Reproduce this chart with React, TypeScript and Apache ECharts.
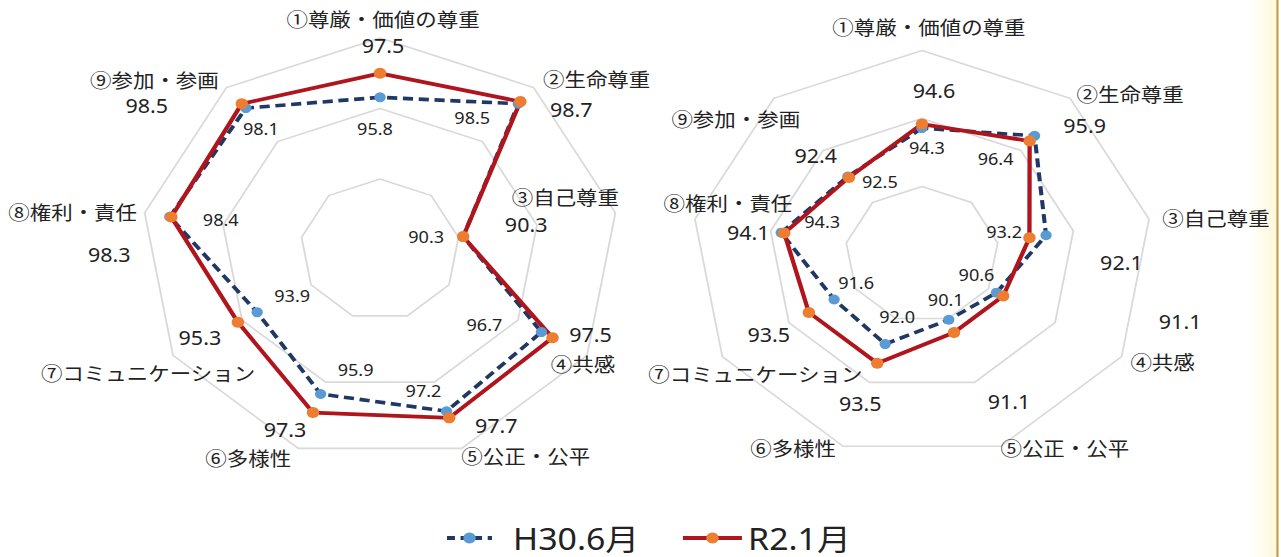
import React, { useEffect, useRef } from 'react';
import * as echarts from 'echarts';

// ---- data ----
const axisNames = ['①尊厳・価値の尊重', '②生命尊重', '③自己尊重', '④共感', '⑤公正・公平', '⑥多様性', '⑦コミュニケーション', '⑧権利・責任', '⑨参加・参画'];
const seriesNames = ['H30.6月', 'R2.1月'];
const leftH30 = [95.8, 98.5, 90.3, 96.7, 97.2, 95.9, 93.9, 98.4, 98.1];
const leftR2 = [97.5, 98.7, 90.3, 97.5, 97.7, 97.3, 95.3, 98.3, 98.5];
const rightH30 = [94.3, 96.4, 93.2, 90.6, 90.1, 92.0, 91.6, 94.3, 92.5];
const rightR2 = [94.6, 95.9, 92.1, 91.1, 91.1, 93.5, 93.5, 94.1, 92.4];
const axisMin = 85;
const axisMax = 100;

// ---- layout (label offsets relative to their point, in reference pixels) ----
const S = 1.13; // horizontal stretch of the reference picture
const W = 1281 / S;
const H = 557;
const ORDER = [0, 8, 7, 6, 5, 4, 3, 2, 1]; // clockwise placement
const leftR2Off = [[3, -28], [51, 8], [63, -12], [38, -3], [47, 8], [-28, 17], [-38, 15], [-62, 37], [-95, 2]];
const leftH30Off = [[-5, 32], [-46, 14], [-37, 0], [-57, -7], [-23, -20], [35, -24], [35, -16], [51, 3], [15, 21]];
const rightR2Off = [[12, -34], [55, -16], [92, 25], [177, 25], [55, 69], [-17, 40], [-40, 22], [-36, -1], [-33, -22]];
const rightH30Off = [[5, 20], [-39, 23], [-42, -3], [-20, -18], [-3, -20], [12, -27], [22, -17], [41, -11], [32, 5]];
const leftNameOff = [[3, -20], [63, -9], [-50, -16], [-4, 8], [64, 7], [-50, 9], [-25, 17], [-72, -1], [-72, -8]];
const rightNameOff = [[7, -24], [60, -5], [67, -2], [41, 5], [64, 1], [-50, 1], [33, 17], [33, -17], [-38, 20]];

const NUM_FONT = '"Noto Sans", "Open Sans", sans-serif';
const CJK_FONT = '"Noto Sans CJK JP", "Noto Sans", sans-serif';
const TEXT_COLOR = '#222222';
const H30_LINE = '#1F3864';
const H30_MARK = '#5B9BD5';
const R2_LINE = '#B0141C';
const R2_MARK = '#ED7D31';

export default function App() {
  const ref = useRef<HTMLDivElement>(null);

  useEffect(() => {
    const el = ref.current;
    if (!el) return;
    const chart = echarts.init(el, undefined, { renderer: 'svg' });

    const radarBase = (center: number[], radius: number) => ({
      center,
      radius,
      startAngle: 90,
      splitNumber: 3,
      shape: 'polygon',
      indicator: ORDER.map((i) => ({ name: axisNames[i], min: axisMin, max: axisMax })),
      axisName: { show: false },
      axisLine: { show: false },
      axisTick: { show: false },
      axisLabel: { show: false },
      splitArea: { show: false },
      splitLine: { lineStyle: { color: '#d9d9d9', width: 1.6 } },
    });

    const h30Style = {
      symbol: 'circle',
      symbolSize: 10,
      lineStyle: { color: H30_LINE, width: 3.6, type: [9, 5] },
      itemStyle: { color: H30_MARK, borderWidth: 0 },
    };
    const r2Style = {
      symbol: 'circle',
      symbolSize: 11,
      lineStyle: { color: R2_LINE, width: 3.8, type: 'solid' },
      itemStyle: { color: R2_MARK, borderWidth: 0 },
    };

    const mk = (vals: number[]) => ORDER.map((i) => vals[i]);

    chart.setOption({
      animation: false,
      backgroundColor: '#ffffff',
      radar: [radarBase([336.3, 249.6], 211.5), radarBase([815.9, 254.6], 204)],
      series: [
        {
          type: 'radar',
          radarIndex: 0,
          data: [
            { name: seriesNames[0], value: mk(leftH30), ...h30Style },
            { name: seriesNames[1], value: mk(leftR2), ...r2Style },
          ],
        },
        {
          type: 'radar',
          radarIndex: 1,
          data: [
            { name: seriesNames[0], value: mk(rightH30), ...h30Style },
            { name: seriesNames[1], value: mk(rightR2), ...r2Style },
          ],
        },
      ],
    });

    const elements: any[] = [];
    const addText = (text: string, x: number, y: number, size: number, family: string, align = 'center') => {
      elements.push({
        type: 'text',
        silent: true,
        z: 10,
        style: {
          text,
          x,
          y,
          fill: TEXT_COLOR,
          fontSize: size,
          fontFamily: family,
          align,
          verticalAlign: 'middle',
        },
      });
    };

    const charts = [
      { h30: leftH30, r2: leftR2, h30Off: leftH30Off, r2Off: leftR2Off, nameOff: leftNameOff },
      { h30: rightH30, r2: rightR2, h30Off: rightH30Off, r2Off: rightR2Off, nameOff: rightNameOff },
    ];
    const model: any = (chart as any).getModel();
    charts.forEach((c, ci) => {
      const cs = model.getComponent('radar', ci).coordinateSystem;
      for (let i = 0; i < axisNames.length; i++) {
        const k = ORDER.indexOf(i);
        const pR2 = cs.dataToPoint(c.r2[i], k);
        addText(c.r2[i].toFixed(1), pR2[0] + c.r2Off[i][0] / S, pR2[1] + c.r2Off[i][1], 19, NUM_FONT);
        const pH30 = cs.dataToPoint(c.h30[i], k);
        addText(c.h30[i].toFixed(1), pH30[0] + c.h30Off[i][0] / S, pH30[1] + c.h30Off[i][1], 16, NUM_FONT);
        const pN = cs.dataToPoint(axisMax, k);
        addText(axisNames[i], pN[0] + c.nameOff[i][0] / S, pN[1] + c.nameOff[i][1], 19, CJK_FONT);
      }
    });

    // legend
    const ly = 538;
    elements.push({
      type: 'line', silent: true,
      shape: { x1: 395.6, y1: ly, x2: 435.4, y2: ly },
      style: { stroke: H30_LINE, lineWidth: 4, lineDash: [7, 5] },
    });
    elements.push({ type: 'circle', silent: true, shape: { cx: 415.5, cy: ly, r: 5.5 }, style: { fill: H30_MARK } });
    addText(seriesNames[0], 454, ly, 30, '"Noto Sans", "Noto Sans CJK JP", sans-serif', 'left');
    elements.push({
      type: 'line', silent: true,
      shape: { x1: 604.4, y1: ly, x2: 656.6, y2: ly },
      style: { stroke: R2_LINE, lineWidth: 4 },
    });
    elements.push({ type: 'circle', silent: true, shape: { cx: 630.5, cy: ly, r: 5.5 }, style: { fill: R2_MARK } });
    addText(seriesNames[1], 662, ly, 30, '"Noto Sans", "Noto Sans CJK JP", sans-serif', 'left');

    // right edge decoration
    elements.push({
      type: 'rect', silent: true, z: 0,
      shape: { x: 1104, y: 0, width: 26, height: H },
      style: {
        fill: new echarts.graphic.LinearGradient(0, 0, 1, 0, [
          { offset: 0, color: 'rgba(255,250,225,0)' },
          { offset: 1, color: '#FFF7D6' },
        ]),
      },
    });
    elements.push({
      type: 'line', silent: true,
      shape: { x1: 1130.5, y1: 0, x2: 1130.5, y2: H },
      style: { stroke: '#B89A4A', lineWidth: 1.8 },
    });

    chart.setOption({ graphic: { elements } });

    return () => {
      chart.dispose();
    };
  }, []);

  return (
    <div
      ref={ref}
      style={{
        position: 'fixed',
        left: 0,
        top: 0,
        width: W,
        height: H,
        transform: `scaleX(${S})`,
        transformOrigin: '0 0',
        background: '#ffffff',
      }}
    />
  );
}
